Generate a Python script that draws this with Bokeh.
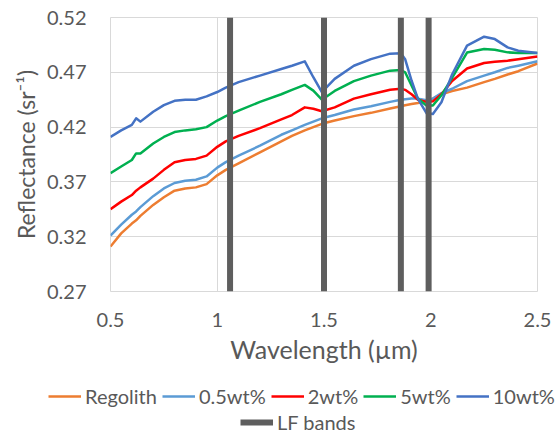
from bokeh.plotting import figure
from bokeh.layouts import column, row
from bokeh.models import Range1d, FixedTicker, Legend, LegendItem, ColumnDataSource
from bokeh.embed import file_html
from bokeh.resources import INLINE

wavelength = [0.5, 0.55, 0.6, 0.62, 0.64, 0.7, 0.75, 0.8, 0.85, 0.9, 0.95, 1.0, 1.04, 1.1, 1.2, 1.3, 1.35,
              1.41, 1.45, 1.49, 1.55, 1.64, 1.72, 1.81, 1.86, 1.88, 1.91, 1.94, 1.98, 2.01, 2.05, 2.1,
              2.17, 2.25, 2.3, 2.36, 2.41, 2.5]
regolith = [0.311, 0.323, 0.332, 0.335, 0.339, 0.349, 0.356, 0.362, 0.364, 0.365, 0.368, 0.376, 0.381, 0.387,
            0.397, 0.407, 0.412, 0.417, 0.420, 0.423, 0.426, 0.430, 0.433, 0.437, 0.439, 0.440, 0.441, 0.442,
            0.444, 0.446, 0.450, 0.453, 0.456, 0.461, 0.464, 0.468, 0.471, 0.478]
wt05 = [0.321, 0.331, 0.340, 0.343, 0.347, 0.357, 0.364, 0.369, 0.371, 0.372, 0.375, 0.383, 0.388, 0.394,
        0.403, 0.413, 0.417, 0.422, 0.425, 0.428, 0.431, 0.436, 0.439, 0.443, 0.445, 0.4455, 0.446, 0.446,
        0.4445, 0.446, 0.451, 0.455, 0.462, 0.467, 0.470, 0.474, 0.476, 0.480]
wt2 = [0.345, 0.352, 0.358, 0.362, 0.365, 0.373, 0.381, 0.388, 0.390, 0.391, 0.394, 0.402, 0.407, 0.412,
       0.419, 0.427, 0.431, 0.438, 0.4367, 0.4345, 0.438, 0.446, 0.450, 0.454, 0.455, 0.454, 0.450, 0.445,
       0.443, 0.4435, 0.450, 0.462, 0.4735, 0.4785, 0.4797, 0.4806, 0.482, 0.4845]
wt5 = [0.378, 0.384, 0.390, 0.396, 0.396, 0.405, 0.411, 0.4155, 0.417, 0.418, 0.420, 0.426, 0.430, 0.435,
       0.443, 0.450, 0.454, 0.4585, 0.4533, 0.445, 0.453, 0.462, 0.467, 0.4715, 0.472, 0.470, 0.458, 0.4458,
       0.4397, 0.4397, 0.449, 0.465, 0.488, 0.4913, 0.4906, 0.4882, 0.4876, 0.4876]
wt10 = [0.411, 0.417, 0.422, 0.428, 0.425, 0.434, 0.440, 0.444, 0.445, 0.445, 0.448, 0.452, 0.456, 0.461,
        0.467, 0.473, 0.476, 0.480, 0.4655, 0.452, 0.464, 0.476, 0.482, 0.487, 0.4873, 0.482, 0.4625, 0.4458,
        0.4327, 0.432, 0.4427, 0.468, 0.4943, 0.5025, 0.5003, 0.4927, 0.4897, 0.4876]
series_names = ["Regolith", "0.5wt%", "2wt%", "5wt%", "10wt%"]
lf_bands = [1.06, 1.5, 1.86, 1.99]
x_ticks = [0.5, 1.0, 1.5, 2.0, 2.5]
x_tick_labels = ["0.5", "1", "1.5", "2", "2.5"]
y_ticks = [0.27, 0.32, 0.37, 0.42, 0.47, 0.52]
y_tick_labels = ["0.27", "0.32", "0.37", "0.42", "0.47", "0.52"]

FONT = "Lato"
TXT = "#595959"
colors = ["#ED7D31", "#5B9BD5", "#FF0000", "#00B050", "#4472C4"]
BAND_COLOR = "#5e5e5e"

p = figure(width=560, height=370, output_backend="svg", toolbar_location=None,
           x_range=Range1d(0.5, 2.5), y_range=Range1d(0.27, 0.52),
           min_border_left=110, min_border_right=23, min_border_top=17, min_border_bottom=79)
p.outline_line_color = "#d9d9d9"
p.background_fill_color = "white"
p.border_fill_color = "white"

for ax in (p.xaxis[0], p.yaxis[0]):
    ax.axis_line_color = None
    ax.major_tick_line_color = None
    ax.minor_tick_line_color = None
    ax.major_label_text_font = FONT
    ax.major_label_text_color = TXT
    ax.major_label_text_font_size = "20px"
    ax.axis_label_text_font = FONT
    ax.axis_label_text_color = TXT
    ax.axis_label_text_font_style = "normal"

p.xaxis.axis_label_text_font_size = "25px"
p.yaxis.axis_label_text_font_size = "23px"
p.xaxis.ticker = FixedTicker(ticks=x_ticks)
p.xaxis.major_label_overrides = dict(zip(x_ticks, x_tick_labels))
p.yaxis.ticker = FixedTicker(ticks=y_ticks)
p.yaxis.major_label_overrides = dict(zip(y_ticks, y_tick_labels))
p.xaxis.axis_label = "Wavelength (µm)"
p.yaxis.axis_label = "Reflectance (sr⁻¹)"
p.xaxis.major_label_standoff = 15
p.xaxis.axis_label_standoff = 4
p.yaxis.major_label_standoff = 18
p.yaxis.axis_label_standoff = 4

p.xgrid.grid_line_color = "#d9d9d9"
p.ygrid.grid_line_color = "#d9d9d9"

src = ColumnDataSource(dict(x=wavelength, r0=regolith, r1=wt05, r2=wt2, r3=wt5, r4=wt10))
keys = ["r0", "r1", "r2", "r3", "r4"]
for i, key in enumerate(keys):
    p.line("x", key, source=src, line_color=colors[i], line_width=2.5, line_join="round")

band_src = ColumnDataSource(dict(x=lf_bands, y0=[y_ticks[0]] * len(lf_bands),
                                 y1=[y_ticks[-1]] * len(lf_bands)))
p.segment(x0="x", x1="x", y0="y0", y1="y1", source=band_src,
          line_color=BAND_COLOR, line_width=6)

# legend strip below the chart (its ranges keep the proxy glyphs out of view)
lp = figure(width=560, height=64, output_backend="svg", toolbar_location=None,
            x_range=Range1d(0, 1), y_range=Range1d(10, 11),
            min_border_left=0, min_border_right=0, min_border_top=0, min_border_bottom=0)
lp.axis.visible = False
lp.grid.visible = False
lp.outline_line_color = None
lp.background_fill_color = "white"
lp.border_fill_color = "white"

leg_renderers = [lp.line("x", k, source=src, line_color=c, line_width=2.5) for k, c in zip(keys, colors)]
band_leg = lp.segment(x0="x", x1="x", y0="y0", y1="y1", source=band_src,
                      line_color=BAND_COLOR, line_width=6)

def make_legend(items, loc):
    return Legend(items=items, location=loc, orientation="horizontal",
                  glyph_width=33, glyph_height=20, label_height=20, label_standoff=4, spacing=5,
                  padding=0, margin=0,
                  border_line_color=None, background_fill_alpha=0,
                  label_text_font=FONT, label_text_color=TXT, label_text_font_size="20px")

leg1 = make_legend([LegendItem(label=n, renderers=[r]) for n, r in zip(series_names, leg_renderers)], (48, 26))
leg2 = make_legend([LegendItem(label="LF bands", renderers=[band_leg])], (240, 0))
lp.add_layout(leg1, "center")
lp.add_layout(leg2, "center")

layout = column(p, row(lp), spacing=0)
open("out.html", "w").write(file_html(layout, INLINE))
